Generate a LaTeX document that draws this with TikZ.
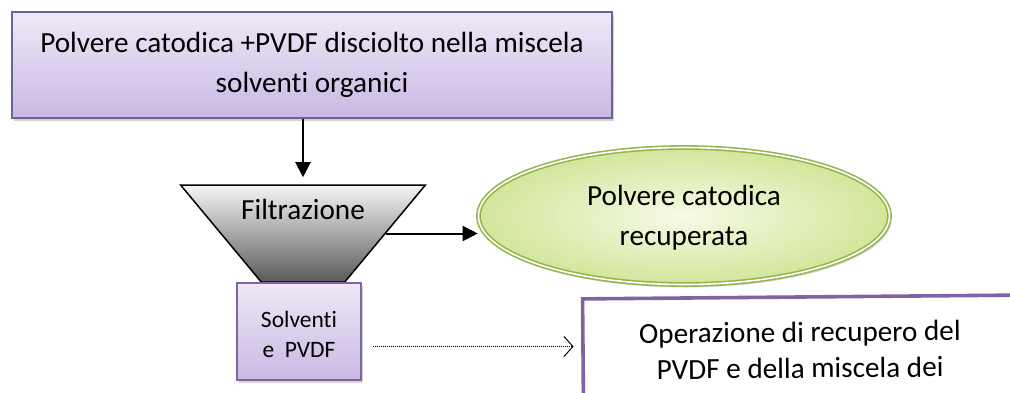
\documentclass[tikz,border=0pt]{standalone}
\usepackage{fontspec}
\setmainfont{Carlito}[Ligatures={NoCommon,NoContextual}]
\usetikzlibrary{arrows.meta,shapes.geometric,shadows}
\definecolor{boxtop}{HTML}{EEE9F7}
\definecolor{boxbot}{HTML}{C9B8E3}
\definecolor{boxline}{HTML}{6F6192}
\definecolor{solvline}{HTML}{8064A2}
\definecolor{elltop}{HTML}{F6FAE6}
\definecolor{ellbot}{HTML}{D2E69A}
\definecolor{ellline}{HTML}{94B54E}
\definecolor{opline}{HTML}{8064A2}
\tikzset{
  bigfont/.style={font=\fontsize{29.2}{36}\selectfont},
  topbox/.style={rectangle, draw=boxline, line width=1.6pt, top color=boxtop, bottom color=boxbot,
    drop shadow={shadow xshift=2pt, shadow yshift=-3pt, opacity=0.35}, bigfont, align=center, inner sep=0pt},
  funnelbox/.style={trapezium, shape border rotate=180, trapezium stretches=true,
    trapezium left angle=46, trapezium right angle=46, draw=black, line width=1.5pt,
    top color=gray!8, bottom color=black!65, inner sep=3pt},
  solvbox/.style={rectangle, draw=solvline, line width=1.3pt, top color=boxtop, bottom color=boxbot,
    drop shadow={shadow xshift=1.5pt, shadow yshift=-3pt, opacity=0.3},
    font=\fontsize{23.5}{28}\selectfont, align=center, inner sep=0pt},
  ellbox/.style={ellipse, draw=ellline, line width=1.6pt, double=white, double distance=1.6pt,
    inner color=elltop, outer color=ellbot,
    drop shadow={shadow xshift=2pt, shadow yshift=-3pt, opacity=0.3},
    bigfont, align=center, inner sep=0pt},
  opbox/.style={rectangle, draw=opline, line width=3.6pt, fill=white, bigfont, align=center, inner sep=0pt},
  solidarrow/.style={-{Triangle[length=15pt,width=15pt]}, line width=2pt, black},
  dotarrow/.style={-{Straight Barb[length=9pt,width=20pt]}, line width=1pt, dash pattern=on 1pt off 1pt, black}
}
\begin{document}
\begin{tikzpicture}[x=1pt,y=-1pt]
\useasboundingbox (0,0) rectangle (1010,392);
\clip (0,0) rectangle (1010,392);
\node[topbox, minimum width=600pt, minimum height=106pt] (top) at (312,65)
  {Polvere catodica +PVDF disciolto nella miscela\\[4pt]solventi organici};
\node[funnelbox, minimum width=245pt, minimum height=97pt] (filt) at (303,233.5) {};
\node[bigfont] (filtlabel) at (303,209) {Filtrazione};
\node[solvbox, minimum width=124pt, minimum height=97pt] (solv) at (299,331.5)
  {\rule{0pt}{22pt}Solventi\\[2pt]e~~PVDF};
\node[ellbox, minimum width=411pt, minimum height=137pt] (ell) at (684,216)
  {\rule{0pt}{24pt}Polvere catodica\\[4pt]recuperata};
\node[opbox, rotate=0.5, minimum width=434pt, minimum height=106pt] (op) at (800,350)
  {Operazione di recupero del\\PVDF e della miscela dei};
\draw[solidarrow] (filt.north |- top.south) -- ([yshift=7pt]filt.north);
\draw[solidarrow] (filt.east) -- (filt.east -| ell.west);
\draw[dotarrow] ([xshift=11pt,yshift=-15pt]solv.east) -- ([xshift=212pt,yshift=-15pt]solv.east);
\end{tikzpicture}
\end{document}
